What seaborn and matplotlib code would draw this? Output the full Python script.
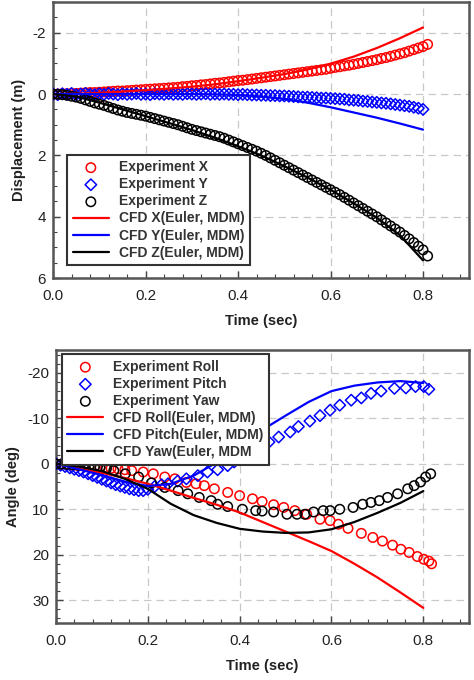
import numpy as np
import pandas as pd
import matplotlib
matplotlib.use("Agg")
import matplotlib.pyplot as plt
import seaborn as sns
from matplotlib.ticker import MultipleLocator

# ---- top panel: displacement ----
time_exp_top = [0.00, 0.01, 0.02, 0.03, 0.04, 0.05, 0.06, 0.07, 0.08, 0.09,
                0.10, 0.11, 0.12, 0.13, 0.14, 0.15, 0.16, 0.17, 0.18, 0.19,
                0.20, 0.21, 0.22, 0.23, 0.24, 0.25, 0.26, 0.27, 0.28, 0.29,
                0.30, 0.31, 0.32, 0.33, 0.34, 0.35, 0.36, 0.37, 0.38, 0.39,
                0.40, 0.41, 0.42, 0.43, 0.44, 0.45, 0.46, 0.47, 0.48, 0.49,
                0.50, 0.51, 0.52, 0.53, 0.54, 0.55, 0.56, 0.57, 0.58, 0.59,
                0.60, 0.61, 0.62, 0.63, 0.64, 0.65, 0.66, 0.67, 0.68, 0.69,
                0.70, 0.71, 0.72, 0.73, 0.74, 0.75, 0.76, 0.77, 0.78, 0.79,
                0.80, 0.81]
exp_x = [0.00, 0.00, -0.01, -0.01, -0.02, -0.02, -0.03, -0.04, -0.05, -0.05,
         -0.06, -0.07, -0.08, -0.09, -0.10, -0.10, -0.11, -0.12, -0.13, -0.14,
         -0.15, -0.16, -0.17, -0.18, -0.19, -0.20, -0.21, -0.22, -0.24, -0.25,
         -0.27, -0.28, -0.30, -0.31, -0.33, -0.35, -0.36, -0.38, -0.40, -0.42,
         -0.44, -0.45, -0.47, -0.49, -0.51, -0.53, -0.55, -0.57, -0.59, -0.61,
         -0.63, -0.65, -0.67, -0.69, -0.71, -0.73, -0.75, -0.77, -0.79, -0.81,
         -0.84, -0.87, -0.89, -0.92, -0.94, -0.97, -1.00, -1.03, -1.06, -1.09,
         -1.12, -1.16, -1.19, -1.23, -1.27, -1.31, -1.35, -1.40, -1.45, -1.50,
         -1.55, -1.62]
exp_y = [0.00, 0.02, -0.01, 0.01, -0.02, 0.02, 0.00, -0.02, 0.01, 0.02,
         -0.01, 0.01, -0.02, 0.00, 0.02, -0.01, 0.01, 0.00, -0.02, 0.01,
         0.00, 0.02, -0.01, 0.00, 0.01, -0.01, 0.01, 0.00, 0.01, -0.01,
         0.00, 0.01, 0.00, -0.01, 0.01, 0.00, 0.01, 0.00, 0.01, 0.01,
         0.02, 0.01, 0.02, 0.03, 0.03, 0.04, 0.04, 0.05, 0.05, 0.06,
         0.06, 0.07, 0.08, 0.09, 0.10, 0.10, 0.11, 0.12, 0.13, 0.13,
         0.14, 0.15, 0.16, 0.17, 0.19, 0.20, 0.21, 0.23, 0.24, 0.26,
         0.27, 0.29, 0.30, 0.32, 0.34, 0.36, 0.38, 0.40, 0.43, 0.46,
         0.50]
exp_z = [0.00, 0.01, 0.02, 0.04, 0.07, 0.10, 0.14, 0.19, 0.24, 0.29,
         0.33, 0.37, 0.42, 0.47, 0.52, 0.56, 0.60, 0.63, 0.66, 0.69,
         0.72, 0.76, 0.80, 0.84, 0.88, 0.92, 0.96, 1.00, 1.05, 1.10,
         1.15, 1.19, 1.23, 1.27, 1.31, 1.35, 1.39, 1.44, 1.50, 1.56,
         1.62, 1.68, 1.74, 1.80, 1.86, 1.93, 2.00, 2.08, 2.16, 2.24,
         2.32, 2.40, 2.48, 2.56, 2.64, 2.72, 2.80, 2.88, 2.96, 3.04,
         3.12, 3.20, 3.28, 3.37, 3.46, 3.55, 3.64, 3.73, 3.82, 3.91,
         4.00, 4.10, 4.20, 4.30, 4.40, 4.50, 4.61, 4.72, 4.84, 4.96,
         5.08, 5.28]

time_cfd = [0.00, 0.05, 0.10, 0.15, 0.20, 0.25, 0.30, 0.35, 0.40,
            0.45, 0.50, 0.55, 0.60, 0.65, 0.70, 0.75, 0.80]
cfd_x = [0.00, -0.01, -0.04, -0.08, -0.13, -0.18, -0.24, -0.32, -0.42,
         -0.53, -0.65, -0.80, -0.99, -1.22, -1.50, -1.82, -2.17]
cfd_y = [0.00, 0.00, 0.00, 0.00, 0.00, 0.00, 0.00, 0.01, 0.03,
         0.08, 0.16, 0.28, 0.43, 0.60, 0.77, 0.96, 1.16]
cfd_z = [0.00, 0.08, 0.28, 0.50, 0.72, 0.94, 1.17, 1.42, 1.70,
         2.00, 2.35, 2.72, 3.12, 3.56, 4.03, 4.60, 5.42]

# ---- bottom panel: angles ----
time_roll = [0.00, 0.012, 0.024, 0.036, 0.048, 0.06, 0.072, 0.084, 0.096, 0.108,
             0.12, 0.135, 0.15, 0.165, 0.19, 0.212, 0.237, 0.259, 0.284, 0.305,
             0.323, 0.345, 0.374, 0.400, 0.428, 0.449, 0.474, 0.496, 0.520, 0.546,
             0.575, 0.597, 0.615, 0.636, 0.665, 0.690, 0.711, 0.733, 0.751, 0.769,
             0.787, 0.801, 0.812, 0.818]
exp_roll = [0.0, 0.1, 0.2, 0.3, 0.4, 0.5, 0.6, 0.7, 0.8, 0.9,
            1.0, 1.1, 1.3, 1.5, 1.8, 2.2, 2.9, 3.3, 4.1, 4.4,
            4.8, 5.5, 6.3, 7.0, 7.7, 8.3, 9.0, 9.6, 10.3, 11.1,
            12.2, 12.5, 13.3, 14.2, 15.3, 16.2, 17.0, 17.9, 18.8, 19.5,
            20.4, 21.0, 21.4, 22.0]
time_pitch = [0.00, 0.01, 0.02, 0.03, 0.04, 0.05, 0.06, 0.07, 0.08, 0.09,
              0.10, 0.11, 0.12, 0.13, 0.14, 0.15, 0.16, 0.17, 0.18, 0.19,
              0.20, 0.215, 0.23, 0.244, 0.265, 0.284, 0.309, 0.330, 0.352, 0.374,
              0.388, 0.410, 0.435, 0.464, 0.485, 0.510, 0.528, 0.553, 0.575, 0.597,
              0.618, 0.643, 0.665, 0.686, 0.708, 0.737, 0.762, 0.783, 0.801, 0.812]
exp_pitch = [0.0, 0.3, 0.6, 0.9, 1.2, 1.5, 1.8, 2.2, 2.6, 3.0,
             3.4, 3.8, 4.2, 4.6, 4.9, 5.2, 5.5, 5.7, 5.9, 5.9,
             5.6, 5.0, 4.6, 4.4, 3.8, 3.3, 2.6, 1.8, 1.3, 0.4,
             -0.4, -1.5, -3.0, -4.8, -5.9, -7.0, -8.2, -9.4, -10.6, -11.8,
             -12.9, -14.0, -14.5, -15.5, -16.0, -16.6, -16.7, -17.0, -17.0, -16.4]
time_yaw = [0.00, 0.012, 0.024, 0.036, 0.048, 0.06, 0.072, 0.084, 0.096, 0.11,
            0.126, 0.151, 0.180, 0.208, 0.237, 0.266, 0.287, 0.312, 0.338, 0.352,
            0.374, 0.406, 0.435, 0.449, 0.474, 0.503, 0.525, 0.542, 0.561, 0.582,
            0.597, 0.618, 0.647, 0.668, 0.686, 0.704, 0.722, 0.744, 0.766, 0.780,
            0.794, 0.805, 0.816]
exp_yaw = [0.0, 0.05, 0.1, 0.2, 0.3, 0.4, 0.5, 0.6, 0.8, 1.1,
           1.5, 2.2, 2.9, 4.2, 5.2, 5.9, 6.6, 7.4, 8.1, 8.9,
           9.4, 10.0, 10.3, 10.4, 10.6, 11.1, 11.1, 11.1, 10.6, 10.3,
           10.3, 10.0, 9.6, 8.9, 8.5, 8.1, 7.4, 6.6, 5.5, 4.8,
           4.0, 2.9, 2.2]

cfd_roll = [0.0, 1.0, 2.0, 3.1, 4.4, 5.9, 7.5, 9.0, 10.7,
            12.8, 14.9, 17.0, 19.2, 22.0, 25.0, 28.3, 31.7]
cfd_pitch = [0.0, 1.2, 2.5, 3.9, 4.9, 4.4, 2.6, -0.3, -3.8,
             -7.5, -10.6, -13.6, -16.0, -17.2, -17.9, -18.2, -17.8]
cfd_yaw = [0.0, 0.6, 1.6, 3.3, 5.5, 8.8, 11.3, 13.0, 14.3,
           14.9, 15.2, 15.1, 14.4, 12.8, 10.8, 8.6, 6.0]

RED = "#ff0000"
BLUE = "#0000ff"
BLACK = "#000000"

sns.set_theme(style="white")
plt.rcParams["font.family"] = ["Liberation Sans", "DejaVu Sans"]
plt.rcParams["axes.unicode_minus"] = False

fig = plt.figure(figsize=(4.74, 6.8), dpi=100)
ax1 = fig.add_axes([0.112, 0.591, 0.878, 0.406])
ax2 = fig.add_axes([0.118, 0.084, 0.872, 0.401])


def draw_exp(ax, t, v, marker, color, label, s):
    sns.scatterplot(x=t, y=v, ax=ax, marker=marker, s=s, facecolor="none",
                    edgecolor=color, linewidth=1.1, label=label, zorder=3)


def draw_cfd(ax, t, v, color, label):
    sns.lineplot(x=t, y=v, ax=ax, color=color, linewidth=1.6, label=label,
                 zorder=4)


def style_axes(ax, ylabel, ylim, ymaj, ymin):
    ax.set_xlim(0, 0.9)
    ax.set_ylim(*ylim)
    ax.xaxis.set_major_locator(MultipleLocator(0.2))
    ax.xaxis.set_minor_locator(MultipleLocator(0.04))
    ax.yaxis.set_major_locator(MultipleLocator(ymaj))
    ax.yaxis.set_minor_locator(MultipleLocator(ymin))
    ax.xaxis.set_major_formatter(matplotlib.ticker.FormatStrFormatter("%.1f"))
    ax.grid(True, which="major", linestyle=(0, (6, 4)), color="#c8c8c8",
            linewidth=0.9)
    ax.tick_params(which="both", direction="in", bottom=True, left=True,
                   colors="#444444", labelcolor="#222222", labelsize=11)
    ax.tick_params(which="major", length=5, width=1)
    ax.tick_params(which="minor", length=3, width=0.8)
    ax.tick_params(axis="x", which="major", pad=8)
    ax.tick_params(axis="y", which="major", pad=5)
    for sp in ax.spines.values():
        sp.set_color("#555555")
        sp.set_linewidth(1.8)
    ax.set_xlabel("Time (sec)", fontsize=10.5, fontweight="bold",
                  color="#222222", labelpad=8)
    ax.set_ylabel(ylabel, fontsize=10.5, fontweight="bold", color="#222222",
                  labelpad=5)


# top panel
draw_exp(ax1, time_exp_top, exp_x, "o", RED, "Experiment X", 46)
draw_exp(ax1, time_exp_top[:len(exp_y)], exp_y, "D", BLUE, "Experiment Y", 34)
draw_exp(ax1, time_exp_top, exp_z, "o", BLACK, "Experiment Z", 46)
draw_cfd(ax1, time_cfd, cfd_x, RED, "CFD X(Euler, MDM)")
draw_cfd(ax1, time_cfd, cfd_y, BLUE, "CFD Y(Euler, MDM)")
draw_cfd(ax1, time_cfd, cfd_z, BLACK, "CFD Z(Euler, MDM)")
style_axes(ax1, "Displacement (m)", (6, -3), 2, 0.5)

# bottom panel
draw_exp(ax2, time_roll, exp_roll, "o", RED, "Experiment Roll", 46)
draw_exp(ax2, time_pitch, exp_pitch, "D", BLUE, "Experiment Pitch", 34)
draw_exp(ax2, time_yaw, exp_yaw, "o", BLACK, "Experiment Yaw", 46)
draw_cfd(ax2, time_cfd, cfd_roll, RED, "CFD Roll(Euler, MDM)")
draw_cfd(ax2, time_cfd, cfd_pitch, BLUE, "CFD Pitch(Euler, MDM)")
draw_cfd(ax2, time_cfd, cfd_yaw, BLACK, "CFD Yaw(Euler, MDM")
style_axes(ax2, "Angle (deg)", (35, -25), 10, 2)

leg_kw = dict(frameon=True, fancybox=False, framealpha=1, borderaxespad=0,
              handlelength=2.6, handletextpad=0.7, labelspacing=0.22,
              borderpad=0.4, prop={"weight": "bold", "size": 10})
leg1 = ax1.legend(loc="lower left", bbox_to_anchor=(0.034, 0.047), **leg_kw)
leg2 = ax2.legend(loc="upper left", bbox_to_anchor=(0.014, 0.985), **leg_kw)
for leg in (leg1, leg2):
    leg.get_frame().set_edgecolor("#333333")
    leg.get_frame().set_linewidth(1.5)
    leg.set_zorder(10)
    for txt in leg.get_texts():
        txt.set_color("#333333")

fig.savefig("out.png", dpi=100)
